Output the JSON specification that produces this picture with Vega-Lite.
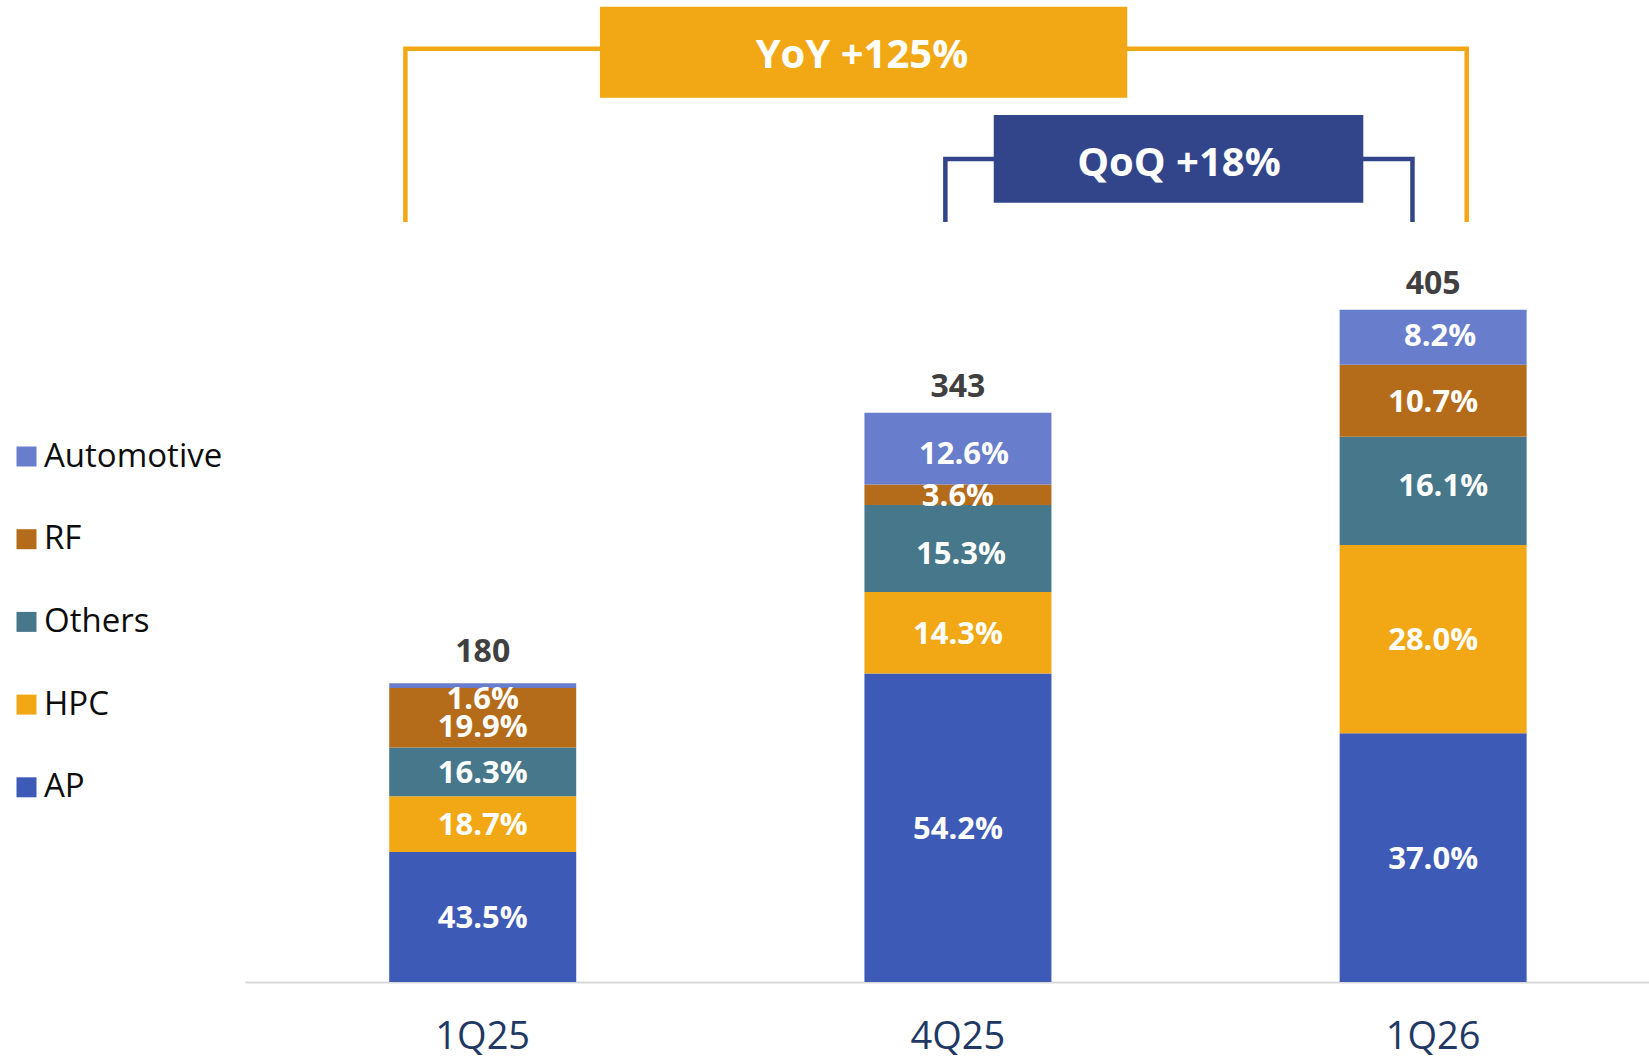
{
  "$schema": "https://vega.github.io/schema/vega-lite/v6.json",
  "width": 1404,
  "height": 982,
  "autosize": {"type": "none"},
  "padding": {"left": 245, "top": 0, "right": 0, "bottom": 74},
  "background": "white",
  "config": {"view": {"stroke": null}, "font": "Open Sans"},
  "datasets": {
    "seg": [
      {"quarter": "1Q25", "segment": "AP", "ord": 1, "pct": 0.435, "value": 78.3},
      {"quarter": "1Q25", "segment": "HPC", "ord": 2, "pct": 0.187, "value": 33.66},
      {"quarter": "1Q25", "segment": "Others", "ord": 3, "pct": 0.163, "value": 29.34},
      {"quarter": "1Q25", "segment": "RF", "ord": 4, "pct": 0.199, "value": 35.82},
      {"quarter": "1Q25", "segment": "Automotive", "ord": 5, "pct": 0.016, "value": 2.88},
      {"quarter": "4Q25", "segment": "AP", "ord": 1, "pct": 0.542, "value": 185.906},
      {"quarter": "4Q25", "segment": "HPC", "ord": 2, "pct": 0.143, "value": 49.049},
      {"quarter": "4Q25", "segment": "Others", "ord": 3, "pct": 0.153, "value": 52.479},
      {"quarter": "4Q25", "segment": "RF", "ord": 4, "pct": 0.036, "value": 12.348},
      {"quarter": "4Q25", "segment": "Automotive", "ord": 5, "pct": 0.126, "value": 43.218},
      {"quarter": "1Q26", "segment": "AP", "ord": 1, "pct": 0.37, "value": 149.85},
      {"quarter": "1Q26", "segment": "HPC", "ord": 2, "pct": 0.28, "value": 113.4},
      {"quarter": "1Q26", "segment": "Others", "ord": 3, "pct": 0.161, "value": 65.205},
      {"quarter": "1Q26", "segment": "RF", "ord": 4, "pct": 0.107, "value": 43.335},
      {"quarter": "1Q26", "segment": "Automotive", "ord": 5, "pct": 0.082, "value": 33.21}
    ],
    "tot": [
      {"quarter": "1Q25", "total": 180},
      {"quarter": "4Q25", "total": 343},
      {"quarter": "1Q26", "total": 405}
    ],
    "brk": [
      {"name": "YoY", "k": 1, "bx": -0.1625, "by": 457.8},
      {"name": "YoY", "k": 2, "bx": -0.1625, "by": 562.2},
      {"name": "YoY", "k": 3, "bx": 2.0707, "by": 562.2},
      {"name": "YoY", "k": 4, "bx": 2.0707, "by": 457.8},
      {"name": "QoQ", "k": 1, "bx": 0.9737, "by": 457.8},
      {"name": "QoQ", "k": 2, "bx": 0.9737, "by": 495.8},
      {"name": "QoQ", "k": 3, "bx": 1.9566, "by": 495.8},
      {"name": "QoQ", "k": 4, "bx": 1.9566, "by": 457.8}
    ],
    "box": [
      {"name": "YoY", "x0": 0.2468, "x1": 1.3565, "y0": 532.7, "y1": 587.5, "label": "YoY +125%", "xc": 0.7982, "yc": 558.9},
      {"name": "QoQ", "x0": 1.0755, "x1": 1.8531, "y0": 469.5, "y1": 522.3, "label": "QoQ +18%", "xc": 1.4653, "yc": 493.8}
    ]
  },
  "layer": [
    {
      "layer": [
        {
          "data": {"name": "seg"},
          "mark": {"type": "bar"},
          "encoding": {
            "x": {
              "field": "quarter", "type": "nominal", "sort": ["1Q25", "4Q25", "1Q26"],
              "scale": {"type": "band", "paddingInner": 0.6065, "paddingOuter": 0.2805, "align": 0.541},
              "axis": {"title": null, "labelFontSize": 38, "labelColor": "#1f3864", "labelFont": "Open Sans", "ticks": false, "tickSize": 0, "labelPadding": 66, "labelBaseline": "alphabetic", "domainColor": "#d9d9d9", "domainWidth": 2, "labelAngle": 0, "grid": false}
            },
            "y": {"field": "value", "type": "quantitative", "stack": "zero", "scale": {"domain": [0, 591.6], "nice": false}, "axis": null},
            "color": {
              "field": "segment", "type": "nominal",
              "scale": {"domain": ["Automotive", "RF", "Others", "HPC", "AP"], "range": ["#687dcb", "#b46c1b", "#46778a", "#f2a815", "#3e5ab7"]},
              "legend": {"title": null, "orient": "none", "legendX": -235, "legendY": 440, "symbolType": "square", "symbolSize": 400, "symbolStrokeWidth": 0, "labelFontSize": 33, "labelFont": "Open Sans", "labelColor": "#0d0d0d", "labelOffset": 1, "rowPadding": 48.7, "padding": 0, "labelLimit": 400}
            },
            "order": {"field": "ord", "type": "quantitative"}
          }
        },
        {
          "data": {"name": "seg"},
          "mark": {"type": "text", "color": "white", "fontWeight": "bold", "fontSize": 31, "baseline": "middle", "dy": 2},
          "encoding": {
            "x": {"field": "quarter", "type": "nominal", "sort": ["1Q25", "4Q25", "1Q26"]},
            "y": {"field": "value", "type": "quantitative", "stack": "zero", "bandPosition": 0.5, "scale": {"domain": [0, 591.6], "nice": false}},
            "detail": {"field": "segment"},
            "order": {"field": "ord", "type": "quantitative"},
            "text": {"field": "pct", "type": "quantitative", "format": ".1%"},
            "opacity": {"condition": {"test": "(datum.quarter == '1Q25' && (datum.segment == 'Automotive' || datum.segment == 'RF')) || (datum.quarter == '4Q25' && (datum.segment == 'Automotive' || datum.segment == 'Others')) || (datum.quarter == '1Q26' && (datum.segment == 'Automotive' || datum.segment == 'Others'))", "value": 0}, "value": 1}
          }
        },
        {
          "data": {"name": "seg"},
          "mark": {"type": "text", "color": "white", "fontWeight": "bold", "fontSize": 31, "baseline": "middle", "dy": 14},
          "encoding": {
            "x": {"field": "quarter", "type": "nominal", "sort": ["1Q25", "4Q25", "1Q26"]},
            "y": {"field": "value", "type": "quantitative", "stack": "zero", "bandPosition": 0.5, "scale": {"domain": [0, 591.6], "nice": false}},
            "detail": {"field": "segment"},
            "order": {"field": "ord", "type": "quantitative"},
            "text": {"field": "pct", "type": "quantitative", "format": ".1%"},
            "opacity": {"condition": {"test": "datum.quarter == '1Q25' && datum.segment == 'Automotive'", "value": 1}, "value": 0}
          }
        },
        {
          "data": {"name": "seg"},
          "mark": {"type": "text", "color": "white", "fontWeight": "bold", "fontSize": 31, "baseline": "middle", "dy": 10},
          "encoding": {
            "x": {"field": "quarter", "type": "nominal", "sort": ["1Q25", "4Q25", "1Q26"]},
            "y": {"field": "value", "type": "quantitative", "stack": "zero", "bandPosition": 0.5, "scale": {"domain": [0, 591.6], "nice": false}},
            "detail": {"field": "segment"},
            "order": {"field": "ord", "type": "quantitative"},
            "text": {"field": "pct", "type": "quantitative", "format": ".1%"},
            "opacity": {"condition": {"test": "datum.quarter == '1Q25' && datum.segment == 'RF'", "value": 1}, "value": 0}
          }
        },
        {
          "data": {"name": "seg"},
          "mark": {"type": "text", "color": "white", "fontWeight": "bold", "fontSize": 31, "baseline": "middle", "dx": 6, "dy": 6},
          "encoding": {
            "x": {"field": "quarter", "type": "nominal", "sort": ["1Q25", "4Q25", "1Q26"]},
            "y": {"field": "value", "type": "quantitative", "stack": "zero", "bandPosition": 0.5, "scale": {"domain": [0, 591.6], "nice": false}},
            "detail": {"field": "segment"},
            "order": {"field": "ord", "type": "quantitative"},
            "text": {"field": "pct", "type": "quantitative", "format": ".1%"},
            "opacity": {"condition": {"test": "datum.quarter == '4Q25' && datum.segment == 'Automotive'", "value": 1}, "value": 0}
          }
        },
        {
          "data": {"name": "seg"},
          "mark": {"type": "text", "color": "white", "fontWeight": "bold", "fontSize": 31, "baseline": "middle", "dx": 3, "dy": 7},
          "encoding": {
            "x": {"field": "quarter", "type": "nominal", "sort": ["1Q25", "4Q25", "1Q26"]},
            "y": {"field": "value", "type": "quantitative", "stack": "zero", "bandPosition": 0.5, "scale": {"domain": [0, 591.6], "nice": false}},
            "detail": {"field": "segment"},
            "order": {"field": "ord", "type": "quantitative"},
            "text": {"field": "pct", "type": "quantitative", "format": ".1%"},
            "opacity": {"condition": {"test": "datum.quarter == '4Q25' && datum.segment == 'Others'", "value": 1}, "value": 0}
          }
        },
        {
          "data": {"name": "seg"},
          "mark": {"type": "text", "color": "white", "fontWeight": "bold", "fontSize": 31, "baseline": "middle", "dx": 10, "dy": -4},
          "encoding": {
            "x": {"field": "quarter", "type": "nominal", "sort": ["1Q25", "4Q25", "1Q26"]},
            "y": {"field": "value", "type": "quantitative", "stack": "zero", "bandPosition": 0.5, "scale": {"domain": [0, 591.6], "nice": false}},
            "detail": {"field": "segment"},
            "order": {"field": "ord", "type": "quantitative"},
            "text": {"field": "pct", "type": "quantitative", "format": ".1%"},
            "opacity": {"condition": {"test": "datum.quarter == '1Q26' && datum.segment == 'Others'", "value": 1}, "value": 0}
          }
        },
        {
          "data": {"name": "seg"},
          "mark": {"type": "text", "color": "white", "fontWeight": "bold", "fontSize": 31, "baseline": "middle", "dx": 7, "dy": 0},
          "encoding": {
            "x": {"field": "quarter", "type": "nominal", "sort": ["1Q25", "4Q25", "1Q26"]},
            "y": {"field": "value", "type": "quantitative", "stack": "zero", "bandPosition": 0.5, "scale": {"domain": [0, 591.6], "nice": false}},
            "detail": {"field": "segment"},
            "order": {"field": "ord", "type": "quantitative"},
            "text": {"field": "pct", "type": "quantitative", "format": ".1%"},
            "opacity": {"condition": {"test": "datum.quarter == '1Q26' && datum.segment == 'Automotive'", "value": 1}, "value": 0}
          }
        },
        {
          "data": {"name": "tot"},
          "transform": [{"filter": "datum.quarter != '1Q25'"}],
          "mark": {"type": "text", "fontSize": 32, "fontWeight": "bold", "color": "#404040", "baseline": "alphabetic", "dy": -16},
          "encoding": {
            "x": {"field": "quarter", "type": "nominal", "sort": ["1Q25", "4Q25", "1Q26"]},
            "y": {"field": "total", "type": "quantitative", "scale": {"domain": [0, 591.6], "nice": false}},
            "text": {"field": "total", "type": "quantitative", "format": "d"}
          }
        },
        {
          "data": {"name": "tot"},
          "transform": [{"filter": "datum.quarter == '1Q25'"}],
          "mark": {"type": "text", "fontSize": 32, "fontWeight": "bold", "color": "#404040", "baseline": "alphabetic", "dy": -21},
          "encoding": {
            "x": {"field": "quarter", "type": "nominal", "sort": ["1Q25", "4Q25", "1Q26"]},
            "y": {"field": "total", "type": "quantitative", "scale": {"domain": [0, 591.6], "nice": false}},
            "text": {"field": "total", "type": "quantitative", "format": "d"}
          }
        }
      ]
    },
    {
      "layer": [
        {
          "data": {"name": "brk"},
          "mark": {"type": "line", "strokeWidth": 4.5, "strokeJoin": "miter", "strokeCap": "butt"},
          "encoding": {
            "x": {"field": "bx", "type": "quantitative", "scale": {"domain": [-0.5, 2.4543], "nice": false, "zero": false}, "axis": null},
            "y": {"field": "by", "type": "quantitative", "scale": {"domain": [0, 591.6], "nice": false}},
            "stroke": {"field": "name", "type": "nominal", "scale": {"domain": ["YoY", "QoQ"], "range": ["#f2a814", "#32458b"]}, "legend": null},
            "order": {"field": "k", "type": "quantitative"}
          }
        },
        {
          "data": {"name": "box"},
          "mark": {"type": "rect"},
          "encoding": {
            "x": {"field": "x0", "type": "quantitative", "scale": {"domain": [-0.5, 2.4543], "nice": false, "zero": false}, "axis": null},
            "x2": {"field": "x1"},
            "y": {"field": "y0", "type": "quantitative", "scale": {"domain": [0, 591.6], "nice": false}},
            "y2": {"field": "y1"},
            "fill": {"field": "name", "type": "nominal", "scale": {"domain": ["YoY", "QoQ"], "range": ["#f2a814", "#32458b"]}, "legend": null}
          }
        },
        {
          "data": {"name": "box"},
          "mark": {"type": "text", "color": "white", "fontSize": 40, "fontWeight": "bold", "baseline": "middle", "dy": 2},
          "encoding": {
            "x": {"field": "xc", "type": "quantitative", "scale": {"domain": [-0.5, 2.4543], "nice": false, "zero": false}, "axis": null},
            "y": {"field": "yc", "type": "quantitative", "scale": {"domain": [0, 591.6], "nice": false}},
            "text": {"field": "label"}
          }
        }
      ]
    }
  ],
  "resolve": {"scale": {"x": "independent"}}
}
